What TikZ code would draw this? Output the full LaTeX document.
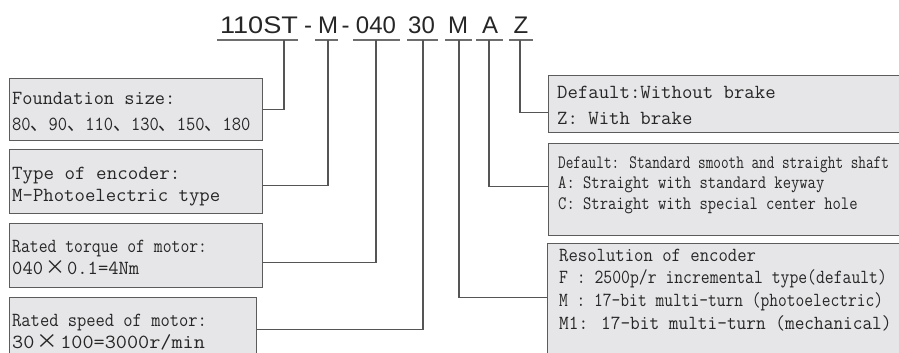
\documentclass[tikz,border=0pt]{standalone}
\usepackage{fontspec}
\setmainfont{Liberation Sans}
\newfontfamily\boxfont{Latin Modern Mono}
\newfontfamily\cjk{Noto Sans CJK SC}
\newcommand{\sqz}[2]{\scalebox{#1}[1]{#2}}
\newcommand{\tms}{\hspace{2pt}{\cjk ×}\hspace{2pt}}

\begin{document}
\begin{tikzpicture}[x=1pt,y=-1pt]

% Colours
\definecolor{boxFill}{HTML}{E6E6E8}
\definecolor{boxLine}{HTML}{5C5C5C}
\definecolor{leadGray}{HTML}{555555}
\definecolor{inkGray}{HTML}{262626}

\tikzset{
  infobox/.style={draw=boxLine, fill=boxFill, line width=1.1pt, rectangle, inner sep=0pt, anchor=north west},
  infotext/.style={anchor=north west, inner sep=0pt, align=left, text=inkGray},
  codetxt/.style={font=\fontsize{24}{28}\selectfont, text=inkGray, inner sep=0pt, anchor=base},
  lead/.style={draw=leadGray, line width=1.2pt},
  uline/.style={draw=leadGray!85, line width=1.3pt}
}

\clip (0,0) rectangle (899,353);

% Model code
\node[codetxt] (cFrame) at (259,34) {\sqz{1.13}{110ST}};
\node[codetxt] (cDashA) at (308,34) {-};
\node[codetxt] (cEnc) at (328,34) {M};
\node[codetxt] (cDashB) at (345.5,34) {-};
\node[codetxt] (cTorq) at (376,34) {040};
\node[codetxt] (cSpeed) at (421.5,34) {30};
\node[codetxt] (cRes) at (458,34) {M};
\node[codetxt] (cShaft) at (490,34) {A};
\node[codetxt] (cBrake) at (521,34) {Z};

% Underlines and ticks
\draw[uline] (217,40) -- (298,40);
\draw[uline] (315,40) -- (338,40);
\draw[uline] (353,40) -- (400,40);
\draw[uline] (407,40) -- (438,40);
\draw[uline] (445,40) -- (472,40);
\draw[uline] (476,40) -- (503,40);
\draw[uline] (509,40) -- (533,40);
\coordinate (k1) at (284,40);
\coordinate (k2) at (328,40);
\coordinate (k3) at (376,40);
\coordinate (k4) at (423,40);
\coordinate (k5) at (459,40);
\coordinate (k6) at (489,40);
\coordinate (k7) at (520,40);

% Left boxes
\node[infobox, minimum width=253, minimum height=62] (sizeBox) at (9,78) {};
\node[infobox, minimum width=253, minimum height=64] (encBox) at (9,149) {};
\node[infobox, minimum width=253, minimum height=64] (torqBox) at (9,223) {};
\node[infobox, minimum width=247, minimum height=64] (speedBox) at (9,297) {};

\node[infotext, font=\boxfont\fontsize{20}{26}\selectfont] (sizeTxt) at ([shift={(3,7.8)}]sizeBox.north west)
  {\strut\sqz{0.99}{Foundation size:}\\
   \sqz{0.9}{80{\cjk 、}90{\cjk 、}110{\cjk 、}130{\cjk 、}150{\cjk 、}180}};
\node[infotext, font=\boxfont\fontsize{20}{22}\selectfont] (encTxt) at ([shift={(3,14.6)}]encBox.north west)
  {\strut\sqz{1.02}{Type of encoder:}\\ \sqz{1.01}{M-Photoelectric type}};
\node[infotext, font=\boxfont\fontsize{20}{22}\selectfont] (torqTxt) at ([shift={(3,13.6)}]torqBox.north west)
  {\strut\sqz{0.86}{Rated torque of motor:}\\ \sqz{1.0}{040\tms0.1=4Nm}};
\node[infotext, font=\boxfont\fontsize{20}{22}\selectfont] (speedTxt) at ([shift={(3,13.6)}]speedBox.north west)
  {\strut\sqz{0.9}{Rated speed of motor:}\\ \sqz{1.08}{30\tms100=3000r/min}};

% Right boxes
\node[infobox, minimum width=360, minimum height=57] (brakeBox) at (548,75) {};
\node[infobox, minimum width=360, minimum height=92] (shaftBox) at (548,143) {};
\node[infobox, minimum width=360, minimum height=120] (resBox) at (547,243) {};

\node[infotext, font=\boxfont\fontsize{20}{26}\selectfont] (brakeTxt) at ([shift={(9,4.8)}]brakeBox.north west)
  {\strut\sqz{1.01}{Default:Without brake}\\ \sqz{1.01}{Z: With brake}};
\node[infotext, font=\boxfont\fontsize{19}{20.5}\selectfont] (shaftTxt) at ([shift={(10,10.7)}]shaftBox.north west)
  {\strut\sqz{0.78}{Default: Standard smooth and straight shaft}\\
   \sqz{0.85}{A: Straight with standard keyway}\\
   \sqz{0.85}{C: Straight with special center hole}};
\node[infotext, font=\boxfont\fontsize{20}{22.7}\selectfont] (resTxt) at ([shift={(12,2.1)}]resBox.north west)
  {\strut\sqz{0.91}{Resolution of encoder}\\
   \sqz{0.86}{F : 2500p/r incremental type(default)}\\
   \sqz{0.85}{M : 17-bit multi-turn (photoelectric)}\\
   \sqz{0.94}{M1: 17-bit multi-turn (mechanical)}};

% Leaders
\draw[lead] (sizeBox.east) -| (k1);
\draw[lead] ([yshift=-4pt]encBox.east) -| (k2);
\draw[lead] ([yshift=-7pt]torqBox.east) -| (k3);
\draw[lead] (speedBox.east) -| (k4);
\draw[lead] ([yshift=6pt]resBox.west) -| (k5);
\draw[lead] ([yshift=3pt]shaftBox.west) -| (k6);
\draw[lead] ([yshift=-8.5pt]brakeBox.west) -| (k7);

\end{tikzpicture}
\end{document}
